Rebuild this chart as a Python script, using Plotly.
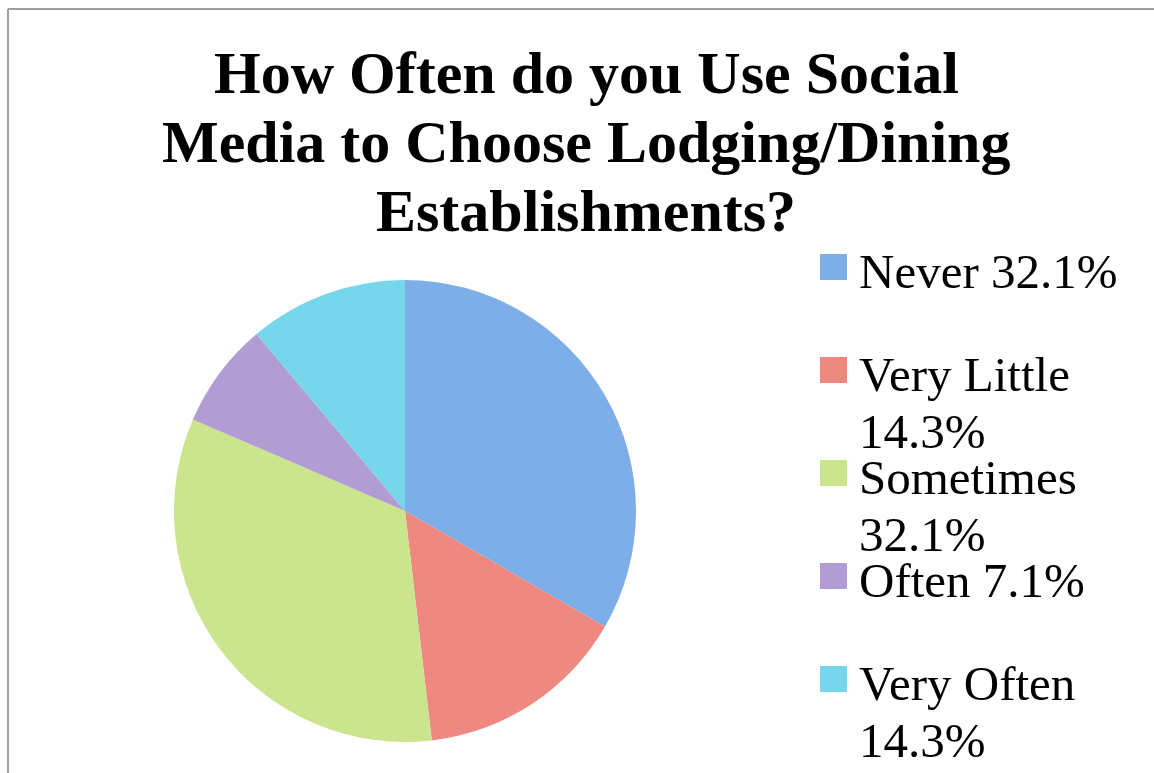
import plotly.graph_objects as go

# ---- data ----
categories = ["Never", "Very Little", "Sometimes", "Often", "Very Often"]
legend_labels = ["Never 32.1%", "Very Little<br>14.3%", "Sometimes<br>32.1%",
                 "Often 7.1%", "Very Often<br>14.3%"]
responses = [9, 4, 9, 2, 3]
title_lines = ["How Often do you Use Social",
               "Media to Choose Lodging/Dining",
               "Establishments?"]

# ---- styles ----
colors = ["#7EAEE8", "#EF8880", "#CBE48E", "#B29CD4", "#76D6EC"]
W, H = 1154, 773
SERIF = "Liberation Serif, Times New Roman, serif"


def px_x(x):
    return x / W


def px_y(y):
    return 1 - y / H


fig = go.Figure(go.Pie(
    labels=categories,
    values=responses,
    sort=False,
    direction="clockwise",
    rotation=0,
    marker=dict(colors=colors, line=dict(width=0)),
    textinfo="none",
    hoverinfo="label+percent",
    showlegend=False,
    domain=dict(x=[px_x(173), px_x(637)], y=[px_y(742), px_y(280)]),
))

annotations = []
# title lines
for i, line in enumerate(title_lines):
    annotations.append(dict(
        text=f"<b>{line}</b>", x=px_x(586), y=px_y(72.5 + 69 * i),
        xref="paper", yref="paper", xanchor="center", yanchor="middle",
        showarrow=False, font=dict(family=SERIF, size=60, color="black"),
    ))

# legend (swatches + wrapped labels)
shapes = []
slot, first_y, line_gap = 103, 271, 57
for i, (lab, col) in enumerate(zip(legend_labels, colors)):
    y0 = first_y + slot * i
    sy = y0 - 4
    shapes.append(dict(type="rect", xref="paper", yref="paper",
                       x0=px_x(820), x1=px_x(847), y0=px_y(sy + 13), y1=px_y(sy - 13),
                       fillcolor=col, line=dict(width=0)))
    for j, part in enumerate(lab.split("<br>")):
        annotations.append(dict(
            text=part, x=px_x(857), y=px_y(y0 + line_gap * j),
            xref="paper", yref="paper", xanchor="left", yanchor="middle",
            showarrow=False, font=dict(family=SERIF, size=49, color="black"),
        ))

# chart frame (top and left edges visible)
shapes.append(dict(type="line", xref="paper", yref="paper",
                   x0=px_x(8), x1=1, y0=px_y(9), y1=px_y(9),
                   line=dict(color="#A0A0A0", width=2)))
shapes.append(dict(type="line", xref="paper", yref="paper",
                   x0=px_x(8), x1=px_x(8), y0=px_y(9), y1=0,
                   line=dict(color="#A0A0A0", width=2)))

fig.update_layout(
    width=W, height=H,
    margin=dict(l=0, r=0, t=0, b=0),
    paper_bgcolor="white", plot_bgcolor="white",
    annotations=annotations, shapes=shapes,
)

fig.write_html(
    "out.html",
    config={"displayModeBar": False},
    post_script="document.body.style.margin='0px';document.body.style.overflow='hidden';",
)
